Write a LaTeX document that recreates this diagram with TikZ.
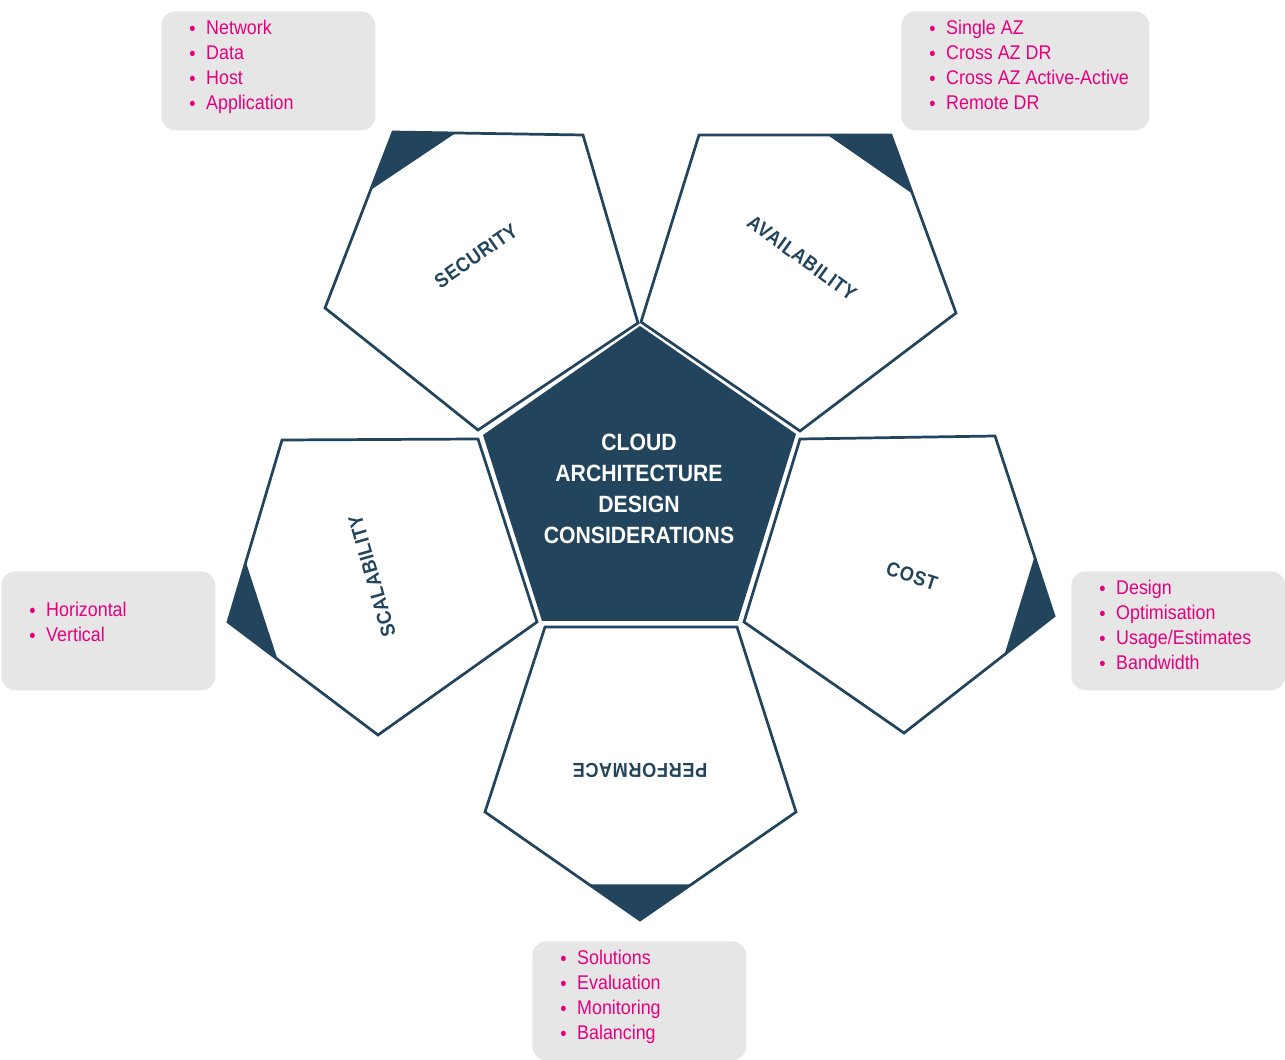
\documentclass[tikz,border=0pt]{standalone}
\usepackage{fontspec}
\setmainfont{Liberation Sans}[FakeStretch=0.9]
\newfontfamily\facefont{Liberation Sans}[FakeStretch=0.9,LetterSpace=3]
\usetikzlibrary{calc}
\definecolor{navy}{HTML}{23445D}
\definecolor{tpink}{HTML}{E6007E}
\definecolor{boxgray}{HTML}{E6E6E6}
\newcommand{\dotitem}{\makebox[9.6pt][l]{\raisebox{-0.6pt}{•}}}

\begin{document}
\begin{tikzpicture}[x=0.02cm, y=-0.02cm,
  face/.style={draw=navy, line width=1.55pt, fill=white, line join=miter},
  corner/.style={fill=navy},
  listbox/.style={fill=boxgray, rounded corners=8pt, minimum width=4.28cm,
    minimum height=2.38cm, anchor=north west, inner sep=0pt},
  item/.style={anchor=base west, inner sep=0pt, text=tpink,
    font=\fontsize{11.3}{13}\selectfont},
  facelabel/.style={text=navy, inner sep=0pt, font=\facefont\bfseries\fontsize{11.5}{13}\selectfont},
  hub/.style={text=white, align=center, inner sep=0pt,
    font=\bfseries\fontsize{13.4}{17.6}\selectfont}]
\useasboundingbox (0,0) rectangle (1285,1060);

% feature lists
\node[listbox] (secbox) at (161,11) {};
\foreach \txt [count=\i] in {Network,Data,Host,Application}
  \node[item] (secitem\i) at ($(secbox.north west)+(28,{23.3+25.2*(\i-1)})$) {\dotitem\txt};
\node[listbox, minimum width=4.96cm] (avabox) at (901,11) {};
\foreach \txt [count=\i] in {Single AZ,Cross AZ DR,Cross AZ Active-Active,Remote DR}
  \node[item] (avaitem\i) at ($(avabox.north west)+(28,{23.3+25.2*(\i-1)})$) {\dotitem\txt};
\node[listbox] (scalbox) at (1,571) {};
\foreach \txt [count=\i] in {Horizontal,Vertical}
  \node[item] (scalitem\i) at ($(scalbox.north west)+(28,{45.7+25.2*(\i-1)})$) {\dotitem\txt};
\node[listbox] (costbox) at (1071,571) {};
\foreach \txt [count=\i] in {Design,Optimisation,Usage/Estimates,Bandwidth}
  \node[item] (costitem\i) at ($(costbox.north west)+(28,{23.3+25.2*(\i-1)})$) {\dotitem\txt};
\node[listbox] (perfbox) at (532,941) {};
\foreach \txt [count=\i] in {Solutions,Evaluation,Monitoring,Balancing}
  \node[item] (perfitem\i) at ($(perfbox.north west)+(28,{23.3+25.2*(\i-1)})$) {\dotitem\txt};

% outer faces, first point is the dark corner
\coordinate (sec1) at (393,132);  \coordinate (sec2) at (583,135);
\coordinate (sec3) at (638,323);  \coordinate (sec4) at (478,430);
\coordinate (sec5) at (325,308);
\coordinate (ava1) at (891,135);  \coordinate (ava2) at (956,313);
\coordinate (ava3) at (800,431);  \coordinate (ava4) at (641,322);
\coordinate (ava5) at (699,135);
\coordinate (cost1) at (1054,616); \coordinate (cost2) at (904,733);
\coordinate (cost3) at (744,622);  \coordinate (cost4) at (800,439);
\coordinate (cost5) at (995,436);
\coordinate (perf1) at (640,920);  \coordinate (perf2) at (485,812);
\coordinate (perf3) at (545,627);  \coordinate (perf4) at (737,627);
\coordinate (perf5) at (796,812);
\coordinate (scal1) at (228,622);  \coordinate (scal2) at (282,440);
\coordinate (scal3) at (478,439);  \coordinate (scal4) at (537,622);
\coordinate (scal5) at (378,735);
\foreach \f in {sec,ava,cost,perf,scal}{
  \draw[face] (\f1) -- (\f2) -- (\f3) -- (\f4) -- (\f5) -- cycle;
  \fill[corner] (\f1) -- ($(\f1)!0.33!(\f2)$) -- ($(\f1)!0.33!(\f5)$) -- cycle;
}

% centre face
\coordinate (hub1) at (640,326); \coordinate (hub2) at (796,434);
\coordinate (hub3) at (738,621); \coordinate (hub4) at (542,621);
\coordinate (hub5) at (483,435);
\fill[navy] (hub1) -- (hub2) -- (hub3) -- (hub4) -- (hub5) -- cycle;
\node[hub] (hubtext) at (639,489) {CLOUD\\ARCHITECTURE\\DESIGN\\CONSIDERATIONS};

% face labels
\node[facelabel, rotate=35] (seclabel) at (476,256) {SECURITY};
\node[facelabel, rotate=-36] (avalabel) at (802,258) {AVAILABILITY};
\node[facelabel, rotate=106] (scallabel) at (372,576) {SCALABILITY};
\node[facelabel, rotate=-18] (costlabel) at (912,576) {COST};
\node[facelabel, rotate=180] (perflabel) at (640,770) {PERFORMACE};
\end{tikzpicture}
\end{document}
